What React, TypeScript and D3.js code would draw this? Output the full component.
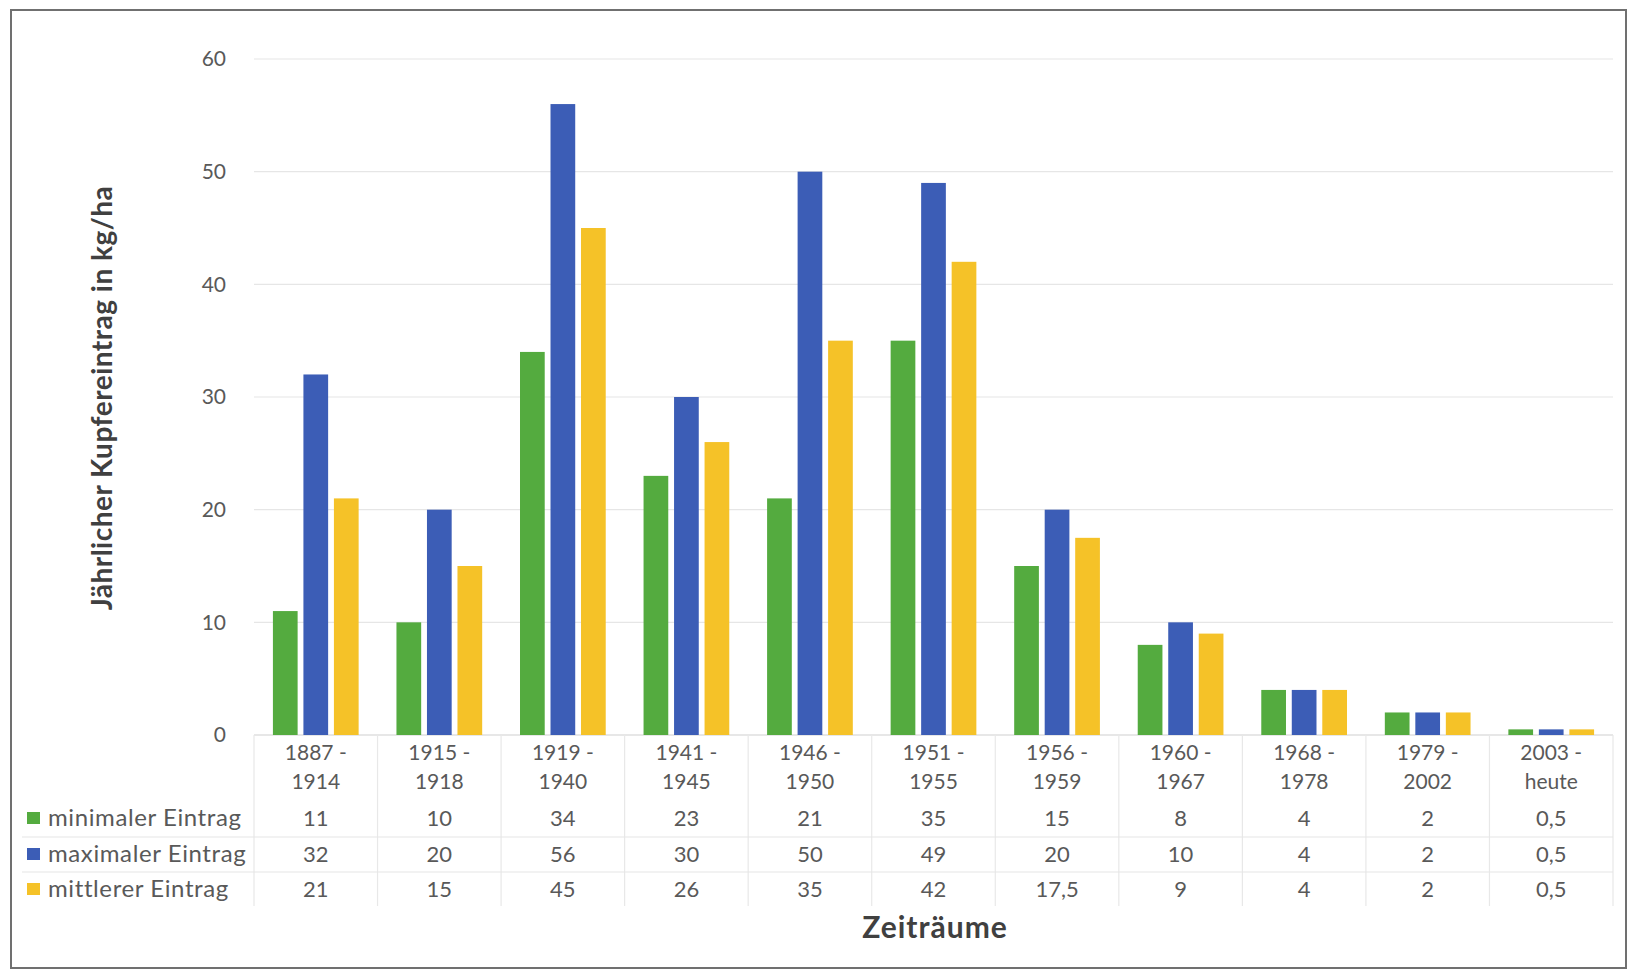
import React from "react";
import * as d3 from "d3";

const categories: string[][] = [
  ["1887 -", "1914"], ["1915 -", "1918"], ["1919 -", "1940"], ["1941 -", "1945"],
  ["1946 -", "1950"], ["1951 -", "1955"], ["1956 -", "1959"], ["1960 -", "1967"],
  ["1968 -", "1978"], ["1979 -", "2002"], ["2003 -", "heute"],
];
const minimal = [11, 10, 34, 23, 21, 35, 15, 8, 4, 2, 0.5];
const maximal = [32, 20, 56, 30, 50, 49, 20, 10, 4, 2, 0.5];
const mittel = [21, 15, 45, 26, 35, 42, 17.5, 9, 4, 2, 0.5];
const seriesNames = ["minimaler Eintrag", "maximaler Eintrag", "mittlerer Eintrag"];
const seriesColors = ["#54ab3f", "#3c5db6", "#f5c228"];
const yTicks = [0, 10, 20, 30, 40, 50, 60];
const yTitle = "Jährlicher Kupfereintrag in kg/ha";
const xTitle = "Zeiträume";

const W = 1633, H = 973;
const plotL = 254, plotR = 1613, plotT = 59, plotB = 735;
const FONT = "Lato, 'Open Sans', sans-serif";

export default function App() {
  const series = [minimal, maximal, mittel];
  const x = d3.scaleBand<number>().domain(d3.range(categories.length)).range([plotL, plotR]).paddingInner(0).paddingOuter(0);
  const inner = d3.scaleBand<number>().domain([0, 1, 2]).range([0, x.bandwidth()]).paddingInner(0.19).paddingOuter(0.62);
  const y = d3.scaleLinear().domain([0, 60]).range([plotB, plotT]);
  const fmt = (v: number) => String(v).replace(".", ",");
  const rowY = [818, 854, 889];
  const rowLines = [800, 837, 872, 906];

  return (
    <svg width={W} height={H} style={{ position: "absolute", left: 0, top: 0, background: "#fff" }} fontFamily={FONT}>
      <rect x={0} y={0} width={W} height={H} fill="#fff" />
      <rect x={11} y={10} width={1615} height={958} fill="none" stroke="#707070" strokeWidth={2} />
      {/* gridlines */}
      {yTicks.map((t) => (
        <line key={"g" + t} x1={plotL} x2={plotR} y1={y(t)} y2={y(t)} stroke={t === 0 ? "#d0d0d0" : "#e6e6e6"} strokeWidth={1.2} />
      ))}
      {yTicks.map((t) => (
        <text key={"t" + t} x={226} y={y(t)} dy="0.35em" textAnchor="end" fontSize={21} fill="#595959">{t}</text>
      ))}
      <text transform={`translate(112,398) rotate(-90)`} textAnchor="middle" fontSize={28} letterSpacing={0.5} fontWeight="bold" fill="#404040">{yTitle}</text>
      {/* bars */}
      {series.map((s, si) =>
        s.map((v, ci) => (
          <rect key={`b${si}-${ci}`} x={(x(ci) as number) + (inner(si) as number)} y={y(v)} width={inner.bandwidth()} height={plotB - y(v)} fill={seriesColors[si]} />
        ))
      )}
      {/* table lines */}
      {categories.map((_, ci) => ci > 0 ? (
        <line key={"v" + ci} x1={x(ci)} x2={x(ci)} y1={plotB} y2={rowLines[3]} stroke="#e8e8e8" strokeWidth={1.2} />
      ) : null)}
      <line x1={plotR} x2={plotR} y1={plotB} y2={rowLines[3]} stroke="#e8e8e8" strokeWidth={1.2} />
      <line x1={plotL} x2={plotL} y1={plotB} y2={rowLines[3]} stroke="#e8e8e8" strokeWidth={1.2} />
      {rowLines.slice(1, 3).map((ly, i) => (
        <line key={"h" + i} x1={22} x2={plotR} y1={ly} y2={ly} stroke="#e6e6e6" strokeWidth={1.2} />
      ))}
      {/* category labels */}
      {categories.map((c, ci) => (
        <text key={"c" + ci} x={(x(ci) as number) + x.bandwidth() / 2} textAnchor="middle" fontSize={21} fill="#595959">
          <tspan x={(x(ci) as number) + x.bandwidth() / 2} y={760}>{c[0]}</tspan>
          <tspan x={(x(ci) as number) + x.bandwidth() / 2} y={789}>{c[1]}</tspan>
        </text>
      ))}
      {/* legend + values */}
      {series.map((s, si) => (
        <g key={"r" + si}>
          <rect x={27} y={rowY[si] - 6} width={13} height={12} fill={seriesColors[si]} />
          <text x={48} y={rowY[si]} dy="0.35em" fontSize={24} letterSpacing={0.6} fill="#595959">{seriesNames[si]}</text>
          {s.map((v, ci) => (
            <text key={"v" + ci} x={(x(ci) as number) + x.bandwidth() / 2} y={rowY[si]} dy="0.35em" textAnchor="middle" fontSize={22} fill="#595959">{fmt(v)}</text>
          ))}
        </g>
      ))}
      <text x={935} y={927} dy="0.35em" textAnchor="middle" fontSize={30} letterSpacing={1} fontWeight="bold" fill="#404040">{xTitle}</text>
    </svg>
  );
}
